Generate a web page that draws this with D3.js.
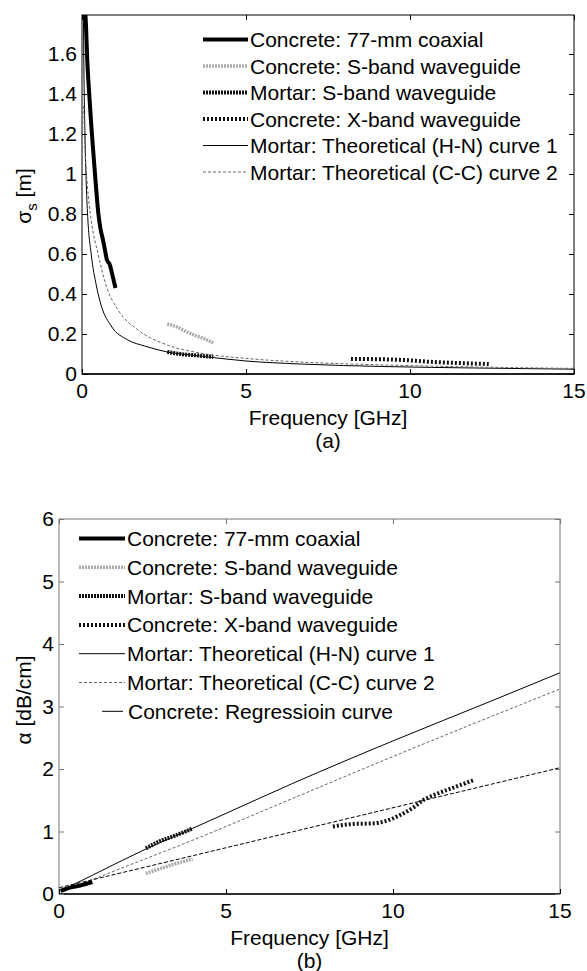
<!DOCTYPE html>
<meta charset="utf-8">
<style>
    body { margin: 0; background: #fff; }
    svg text { font-family: "Liberation Sans", Arial, sans-serif; font-size: 21px; fill: #000; }
</style>
<svg width="587" height="971"></svg>
<script src="https://d3js.org/d3.v7.min.js"></script>
<script>

    // ---- data ----
    var freqTicks = [0, 5, 10, 15];
    var sigmaTicks = [0, 0.2, 0.4, 0.6, 0.8, 1, 1.2, 1.4, 1.6];
    var alphaTicks = [0, 1, 2, 3, 4, 5, 6];

    var legendTop = [
        "Concrete: 77-mm coaxial",
        "Concrete: S-band waveguide",
        "Mortar: S-band waveguide",
        "Concrete: X-band waveguide",
        "Mortar: Theoretical (H-N) curve 1",
        "Mortar: Theoretical (C-C) curve 2"
    ];
    var legendBottom = legendTop.concat(["Concrete: Regressioin curve"]);

    // (a) scattering parameter sigma_s [m] vs frequency [GHz]
    var sigCoax = [[0.08, 1.85], [0.12, 1.75], [0.16, 1.57], [0.22, 1.4], [0.28, 1.25], [0.34, 1.12],
        [0.42, 0.95], [0.5, 0.8], [0.56, 0.73], [0.64, 0.67], [0.7, 0.62], [0.76, 0.57],
        [0.84, 0.55], [0.92, 0.5], [1.02, 0.43]];
    var sigSConcrete = [[2.6, 0.25], [2.9, 0.235], [3.2, 0.21], [3.5, 0.19], [3.75, 0.175], [4.0, 0.155]];
    var sigSMortar = [[2.6, 0.11], [3.0, 0.1], [3.5, 0.093], [4.0, 0.085]];
    var sigXConcrete = [[8.2, 0.075], [9.0, 0.074], [10.0, 0.068], [10.5, 0.062], [11.0, 0.058], [12.4, 0.05]];
    var sigHN = [[0.04, 1.85], [0.06, 1.5], [0.09, 1.2], [0.13, 0.95], [0.18, 0.77], [0.28, 0.6],
        [0.44, 0.44], [0.59, 0.34], [0.89, 0.24], [1.4, 0.17], [1.91, 0.14], [2.6, 0.11],
        [3.6, 0.09], [5, 0.065], [6.65, 0.05], [9.3, 0.037], [12, 0.03], [15, 0.024]];
    var sigCC = [[0.05, 1.34], [0.1, 1.1], [0.16, 0.95], [0.28, 0.77], [0.49, 0.6], [0.74, 0.44],
        [1.1, 0.32], [1.71, 0.22], [2.6, 0.145], [3.6, 0.105], [5, 0.078], [6.65, 0.06],
        [9.3, 0.045], [12, 0.035], [15, 0.028]];

    // (b) attenuation alpha [dB/cm] vs frequency [GHz]
    var attCoax = [[0.05, 0.05], [0.2, 0.08], [0.4, 0.11], [0.6, 0.13], [0.8, 0.16], [1.0, 0.19]];
    var attSConcrete = [[2.6, 0.33], [3.0, 0.4], [3.4, 0.47], [4.0, 0.56]];
    var attSMortar = [[2.6, 0.73], [3.0, 0.84], [3.4, 0.92], [3.7, 0.98], [4.0, 1.05]];
    var attXConcrete = [[8.2, 1.08], [8.8, 1.12], [9.4, 1.13], [9.8, 1.17], [10.2, 1.26], [10.6, 1.38],
        [10.9, 1.5], [11.3, 1.6], [11.8, 1.7], [12.4, 1.82]];
    var attHN = [[0.05, 0.05], [1, 0.3], [2.6, 0.72], [4, 1.05], [5, 1.29], [7, 1.77], [10, 2.45],
        [13, 3.1], [15, 3.54]];
    var attCC = [[0.05, 0.04], [1, 0.23], [2, 0.44], [4, 0.86], [7, 1.53], [10, 2.2], [15, 3.28]];
    var attRegression = [[0, 0.1], [15, 2.02]];

    // ---- line styles ----
    var styles = {
        coax:   {stroke: "#000", width: 4, dash: null},
        sConc:  {stroke: "#aaa", width: 3.5, dash: "2,1"},
        sMort:  {stroke: "#111", width: 4, dash: "2,1"},
        xConc:  {stroke: "#111", width: 4, dash: "2,2"},
        hn:     {stroke: "#000", width: 1, dash: null},
        cc:     {stroke: "#666", width: 1, dash: "3,2"},
        regr:   {stroke: "#000", width: 1, dash: "4,2"}
    };
    var legendKeys = ["coax", "sConc", "sMort", "xConc", "hn", "cc", "regr"];

    var svg = d3.select("svg");

    function panel(opt) {
        var x = d3.scaleLinear().domain([0, 15]).range([opt.left, opt.right]),
            y = d3.scaleLinear().domain(opt.ydomain).range([opt.bottom, opt.top]);

        var g = svg.append("g");
        var clipId = "clip" + opt.id;
        g.append("clipPath").attr("id", clipId)
            .append("rect")
            .attr("x", opt.left).attr("y", opt.top)
            .attr("width", opt.right - opt.left).attr("height", opt.bottom - opt.top);

        var line = d3.line()
            .curve(d3.curveMonotoneX)
            .x(function(d) { return x(d[0]); })
            .y(function(d) { return y(d[1]); });

        var plot = g.append("g").attr("clip-path", "url(#" + clipId + ")");
        opt.series.forEach(function(s) {
            var st = styles[s.key];
            plot.append("path")
                .datum(s.data)
                .attr("d", line)
                .attr("fill", "none")
                .attr("stroke", st.stroke)
                .attr("stroke-width", st.width)
                .attr("stroke-dasharray", st.dash);
        });

        // box
        g.append("rect")
            .attr("x", opt.left).attr("y", opt.top)
            .attr("width", opt.right - opt.left).attr("height", opt.bottom - opt.top)
            .attr("fill", "none").attr("stroke", opt.boxColor).attr("stroke-width", 1);
        g.append("line")
            .attr("x1", opt.left).attr("x2", opt.right)
            .attr("y1", opt.bottom).attr("y2", opt.bottom)
            .attr("stroke", "#000").attr("stroke-width", 1.5);

        // inward ticks, all four sides
        var tl = 5;
        g.append("g").attr("transform", "translate(0," + opt.bottom + ")")
            .call(d3.axisTop(x).tickValues(freqTicks).tickSize(tl).tickFormat(""))
            .call(function(a) { a.select(".domain").remove(); a.selectAll("line").attr("stroke", "#000"); });
        g.append("g").attr("transform", "translate(0," + opt.top + ")")
            .call(d3.axisBottom(x).tickValues(freqTicks).tickSize(tl).tickFormat(""))
            .call(function(a) { a.select(".domain").remove(); a.selectAll("line").attr("stroke", opt.boxColor); });
        g.append("g").attr("transform", "translate(" + opt.left + ",0)")
            .call(d3.axisRight(y).tickValues(opt.yticks).tickSize(tl).tickFormat(""))
            .call(function(a) { a.select(".domain").remove(); a.selectAll("line").attr("stroke", opt.boxColor); });
        g.append("g").attr("transform", "translate(" + opt.right + ",0)")
            .call(d3.axisLeft(y).tickValues(opt.yticks).tickSize(tl).tickFormat(""))
            .call(function(a) { a.select(".domain").remove(); a.selectAll("line").attr("stroke", opt.boxColor); });

        // tick labels
        g.selectAll(".xl").data(freqTicks).enter().append("text")
            .attr("x", function(d) { return x(d); })
            .attr("y", opt.bottom + 24)
            .attr("text-anchor", "middle")
            .text(function(d) { return d; });
        g.selectAll(".yl").data(opt.yticks).enter().append("text")
            .attr("x", opt.left - 5)
            .attr("y", function(d) { return y(d) + 7; })
            .attr("text-anchor", "end")
            .text(function(d) { return d; });

        // axis titles
        var cx = (opt.left + opt.right) / 2;
        g.append("text").attr("x", cx).attr("y", opt.bottom + 51)
            .attr("text-anchor", "middle").text("Frequency [GHz]");
        g.append("text").attr("x", cx).attr("y", opt.bottom + 74)
            .attr("text-anchor", "middle").text(opt.tag);

        var yt = g.append("text")
            .attr("transform", "translate(" + opt.ylabX + "," + opt.ylabY + ") rotate(-90)")
            .attr("text-anchor", "middle");
        opt.ylabel(yt);

        // legend (no box)
        opt.legend.forEach(function(lbl, i) {
            var st = styles[legendKeys[i]];
            var ly = opt.legY + i * opt.legStep;
            var x0 = opt.legX0, x1 = opt.legX1, tx = opt.legX1 + 2;
            if (legendKeys[i] === "regr") { x0 = opt.legX1 - 23; x1 = opt.legX1 - 2; tx = opt.legX1 + 3; }
            g.append("line")
                .attr("x1", x0).attr("x2", x1).attr("y1", ly).attr("y2", ly)
                .attr("stroke", st.stroke)
                .attr("stroke-width", st.width)
                .attr("stroke-dasharray", legendKeys[i] === "regr" ? null : st.dash);
            g.append("text").attr("x", tx).attr("y", ly + 7.5).text(lbl);
        });
    }

    panel({
        id: "a", left: 82, right: 574, top: 15, bottom: 374,
        ydomain: [0, 1.795], yticks: sigmaTicks, boxColor: "#000", tag: "(a)",
        series: [
            {key: "hn", data: sigHN},
            {key: "cc", data: sigCC},
            {key: "coax", data: sigCoax},
            {key: "sConc", data: sigSConcrete},
            {key: "sMort", data: sigSMortar},
            {key: "xConc", data: sigXConcrete}
        ],
        ylabX: 31, ylabY: 196,
        ylabel: function(t) {
            t.append("tspan").text("\u03c3");
            t.append("tspan").attr("dy", 6).attr("font-size", 15).text("s");
            t.append("tspan").attr("dy", -6).text(" [m]");
        },
        legend: legendTop, legX0: 203, legX1: 248, legY: 39.5, legStep: 26.5
    });

    panel({
        id: "b", left: 59, right: 560, top: 519, bottom: 894,
        ydomain: [0, 6], yticks: alphaTicks, boxColor: "#777", tag: "(b)",
        series: [
            {key: "hn", data: attHN},
            {key: "cc", data: attCC},
            {key: "regr", data: attRegression},
            {key: "coax", data: attCoax},
            {key: "sConc", data: attSConcrete},
            {key: "sMort", data: attSMortar},
            {key: "xConc", data: attXConcrete}
        ],
        ylabX: 31, ylabY: 700,
        ylabel: function(t) { t.text("\u03b1 [dB/cm]"); },
        legend: legendBottom, legX0: 79, legX1: 125, legY: 538.5, legStep: 28.8
    });
</script>
